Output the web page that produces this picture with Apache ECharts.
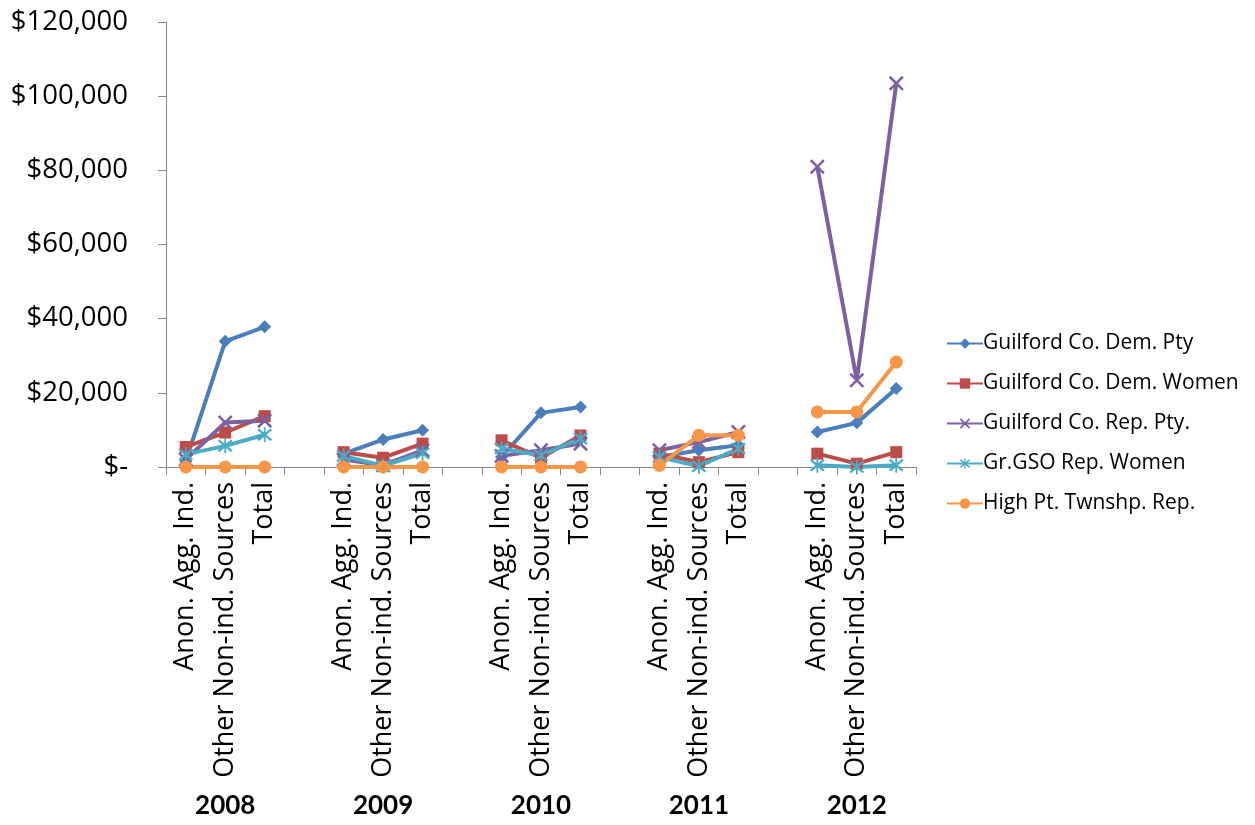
<!DOCTYPE html>
<html>
<head>
<meta charset="utf-8">
<script src="https://cdn.jsdelivr.net/npm/echarts@6/dist/echarts.min.js"></script>
<style>
  html, body { margin: 0; padding: 0; background: #ffffff; }
  #chart { width: 1255px; height: 825px; }
</style>
</head>
<body>
<div id="chart"></div>
<script>
// Category slots: three per year, with an empty slot separating the years
const categories = [
  'Anon. Agg. Ind.', 'Other Non-ind. Sources', 'Total', '',
  'Anon. Agg. Ind.', 'Other Non-ind. Sources', 'Total', '',
  'Anon. Agg. Ind.', 'Other Non-ind. Sources', 'Total', '',
  'Anon. Agg. Ind.', 'Other Non-ind. Sources', 'Total', '',
  'Anon. Agg. Ind.', 'Other Non-ind. Sources', 'Total'
];
const years = [
  '', '2008', '', '',
  '', '2009', '', '',
  '', '2010', '', '',
  '', '2011', '', '',
  '', '2012', ''
];
const seriesNames = [
  'Guilford Co. Dem. Pty',
  'Guilford Co. Dem. Women',
  'Guilford Co. Rep. Pty.',
  'Gr.GSO Rep. Women',
  'High Pt. Twnshp. Rep.'
];
// Dollar amounts per slot (null = gap between years)
const demPty = [1500, 33900, 37800, null, 3600, 7400, 9900, null, 2700, 14600, 16200, null, 2700, 4500, 5850, null, 9450, 11900, 21150];
const demWomen = [5400, 9300, 13700, null, 4000, 2500, 6300, null, 7200, 2500, 8500, null, 3600, 1300, 4000, null, 3600, 900, 4000];
const repPty = [2000, 12000, 12500, null, 2000, 500, 4500, null, 3000, 4500, 6300, null, 4500, 6700, 9450, null, 80950, 23400, 103450];
const gsoRepWomen = [3400, 5700, 8700, null, 3000, 300, 3700, null, 5000, 3100, 7700, null, 2700, 200, 5000, null, 450, 0, 450];
const highPtRep = [0, 0, 0, null, 0, 0, 0, null, 0, 0, 0, null, 450, 8550, 8550, null, 14850, 14850, 28300];
const yTicks = { min: 0, max: 120000, interval: 20000 };

const colors = ['#4A7EBB', '#BE4B48', '#7D60A0', '#4BACC6', '#F79646'];
const xPath = 'path://M0,1.2 L1.2,0 L10,8.8 L8.8,10 Z M8.8,0 L10,1.2 L1.2,10 L0,8.8 Z';
const starPath = 'path://M0,1.2 L1.2,0 L10,8.8 L8.8,10 Z M8.8,0 L10,1.2 L1.2,10 L0,8.8 Z M4.4,-1 L5.6,-1 L5.6,11 L4.4,11 Z';
const symbols = ['diamond', 'rect', xPath, starPath, 'circle'];
const symbolSizes = [13, 12, 15, 15, 13];
const values = [demPty, demWomen, repPty, gsoRepWomen, highPtRep];

const fontFamily = '"Open Sans", Lato, sans-serif';

const chart = echarts.init(document.getElementById('chart'), null, { renderer: 'canvas' });
chart.setOption({
  backgroundColor: '#ffffff',
  animation: false,
  color: colors,
  grid: { left: 166, right: 339, top: 22, bottom: 358, containLabel: false },
  legend: {
    orient: 'vertical',
    left: 941,
    top: 328,
    itemWidth: 36,
    itemHeight: 13,
    itemGap: 19,
    textStyle: { fontFamily, fontSize: 21, color: '#000000', padding: [0, 0, 0, -5] },
    data: seriesNames
  },
  xAxis: [
    {
      type: 'category',
      data: categories,
      boundaryGap: true,
      axisLine: { lineStyle: { color: '#868686', width: 1 } },
      axisTick: { show: true, interval: 0, length: 8, lineStyle: { color: '#868686' } },
      axisLabel: {
        interval: 0,
        rotate: 90,
        margin: 15,
        fontFamily,
        fontSize: 27,
        color: '#000000'
      }
    },
    {
      type: 'category',
      data: years,
      position: 'bottom',
      boundaryGap: true,
      axisLine: { show: false },
      axisTick: { show: false },
      axisLabel: {
        interval: 0,
        margin: 326,
        fontFamily: 'Lato, sans-serif',
        fontWeight: 'bold',
        fontSize: 26,
        color: '#000000'
      }
    }
  ],
  yAxis: {
    type: 'value',
    min: yTicks.min,
    max: yTicks.max,
    interval: yTicks.interval,
    splitLine: { show: false },
    axisLine: { show: true, lineStyle: { color: '#868686', width: 1 } },
    axisTick: { show: true, length: 8, lineStyle: { color: '#868686' } },
    axisLabel: {
      margin: 38,
      fontFamily,
      fontSize: 27.5,
      color: '#000000',
      formatter: function (v) {
        return v === 0 ? '$-' : '$' + v.toLocaleString('en-US');
      }
    }
  },
  series: seriesNames.map(function (name, i) {
    return {
      name: name,
      type: 'line',
      xAxisIndex: 0,
      data: values[i],
      connectNulls: false,
      symbol: symbols[i],
      symbolSize: symbolSizes[i],
      lineStyle: { width: 4, color: colors[i] },
      itemStyle: { color: colors[i] }
    };
  })
});
</script>
</body>
</html>
